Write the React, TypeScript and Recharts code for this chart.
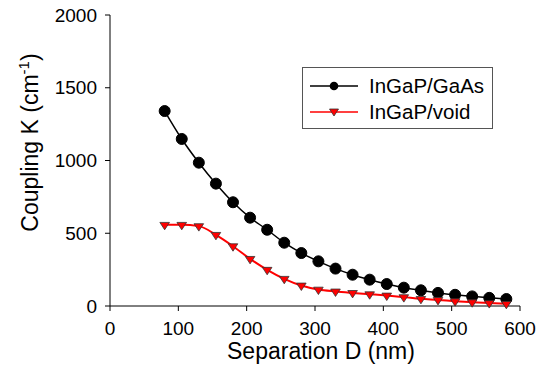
import React from 'react';
import { LineChart, Line, XAxis, YAxis, Legend } from 'recharts';

const FONT = 'Arial, "Liberation Sans", sans-serif';

// Separation D (nm)
const separations = [80, 105, 130, 155, 180, 205, 230, 255, 280, 305, 330, 355, 380, 405, 430, 455, 480, 505, 530, 555, 580];
// Coupling K (cm^-1)
const gaasValues = [1340, 1148, 985, 841, 713, 607, 524, 435, 364, 307, 257, 215, 181, 151, 126, 108, 90, 77, 66, 56, 48];
const voidValues = [558, 558, 549, 489, 411, 324, 249, 187, 141, 113, 100, 90, 81, 72, 61, 49, 42, 33, 26, 20, 15];

const xTicks = [0, 100, 200, 300, 400, 500, 600];
const yTicks = [0, 500, 1000, 1500, 2000];

const seriesNames = ['InGaP/GaAs', 'InGaP/void'];

const data = separations.map((x, i) => ({ x, gaas: gaasValues[i], voidK: voidValues[i] }));

const CircleDot = (props: any) => {
  const { cx, cy, index } = props;
  if (cx == null || cy == null) return <g key={'c' + index} />;
  return <circle key={'c' + index} cx={cx} cy={cy} r={5.5} fill="#000" stroke="#000" strokeWidth={1} />;
};

const TriangleDot = (props: any) => {
  const { cx, cy, index } = props;
  if (cx == null || cy == null) return <g key={'t' + index} />;
  const pts = `${cx - 4.8},${cy - 2.4} ${cx + 4.8},${cy - 2.4} ${cx},${cy + 5}`;
  return <polygon key={'t' + index} points={pts} fill="#ff0000" stroke="#333" strokeWidth={0.8} />;
};

const YLabel = (props: any) => {
  const vb = props.viewBox || {};
  const cy = (vb.y ?? 15) + (vb.height ?? 291) / 2 - 18;
  const x = 38;
  return (
    <text
      x={x}
      y={cy}
      transform={`rotate(-90, ${x}, ${cy})`}
      textAnchor="middle"
      fontSize={23}
      fontFamily={FONT}
      fill="#000"
    >
      Coupling K (cm
      <tspan dy={-9} fontSize={15}>-1</tspan>
      <tspan dy={9}>)</tspan>
    </text>
  );
};

const LegendBox = () => {
  const rows = [
    { name: seriesNames[0], color: '#000', marker: 'circle' },
    { name: seriesNames[1], color: '#ff0000', marker: 'triangle' },
  ];
  return (
    <div
      style={{
        width: 189,
        height: 60,
        border: '1px solid #555',
        background: '#fff',
        fontFamily: FONT,
        fontSize: 20.5,
        color: '#000',
        boxSizing: 'content-box',
      }}
    >
      {rows.map((r, i) => (
        <div key={r.name} style={{ display: 'flex', alignItems: 'center', height: 26, marginTop: i === 0 ? 5 : 0 }}>
          <svg width={66} height={16} style={{ display: 'block' }}>
            <line x1={7} y1={8} x2={55} y2={8} stroke={r.color} strokeWidth={1.6} />
            {r.marker === 'circle' ? (
              <circle cx={31} cy={8} r={4.3} fill="#000" />
            ) : (
              <polygon points="26.5,5 35.5,5 31,12" fill="#ff0000" stroke="#333" strokeWidth={0.8} />
            )}
          </svg>
          <span style={{ lineHeight: '26px' }}>{r.name}</span>
        </div>
      ))}
    </div>
  );
};

export default function App() {
  const tickStyle = { fill: '#000', fontSize: 19, fontFamily: FONT };
  return (
    <div style={{ position: 'absolute', left: 0, top: 0, width: 544, height: 374, background: '#fff' }}>
      <LineChart width={544} height={374} data={data} margin={{ top: 15, right: 24, bottom: 0, left: 0 }}>
        <XAxis
          dataKey="x"
          type="number"
          domain={[0, 600]}
          ticks={xTicks}
          height={68}
          tickSize={5}
          tickMargin={11}
          tick={tickStyle}
          axisLine={{ stroke: '#000' }}
          tickLine={{ stroke: '#000' }}
          label={{
            value: 'Separation D (nm)',
            position: 'insideBottom',
            offset: 15,
            dx: 6,
            fontSize: 23,
            fontFamily: FONT,
            fill: '#000',
          }}
        />
        <XAxis
          xAxisId="top"
          orientation="top"
          dataKey="x"
          type="number"
          domain={[0, 600]}
          height={0}
          tick={false}
          tickLine={false}
          axisLine={{ stroke: '#666' }}
        />
        <YAxis
          type="number"
          domain={[0, 2000]}
          ticks={yTicks}
          width={110}
          tickSize={5}
          tickMargin={8}
          tick={tickStyle}
          axisLine={{ stroke: '#000' }}
          tickLine={{ stroke: '#000' }}
          label={{ content: <YLabel /> }}
        />
        <YAxis
          yAxisId="right"
          orientation="right"
          domain={[0, 2000]}
          width={0}
          tick={false}
          tickLine={false}
          axisLine={{ stroke: '#666' }}
        />
        <Legend
          layout="vertical"
          align="center"
          verticalAlign="middle"
          content={<LegendBox />}
          wrapperStyle={{ left: 302, top: 67, width: 191, height: 62 }}
        />
        <Line
          type="monotone"
          dataKey="gaas"
          name={seriesNames[0]}
          stroke="#000"
          strokeWidth={1.5}
          dot={CircleDot}
          activeDot={false}
          isAnimationActive={false}
        />
        <Line
          type="monotone"
          dataKey="voidK"
          name={seriesNames[1]}
          stroke="#ff0000"
          strokeWidth={2}
          dot={TriangleDot}
          activeDot={false}
          isAnimationActive={false}
        />
      </LineChart>
    </div>
  );
}
